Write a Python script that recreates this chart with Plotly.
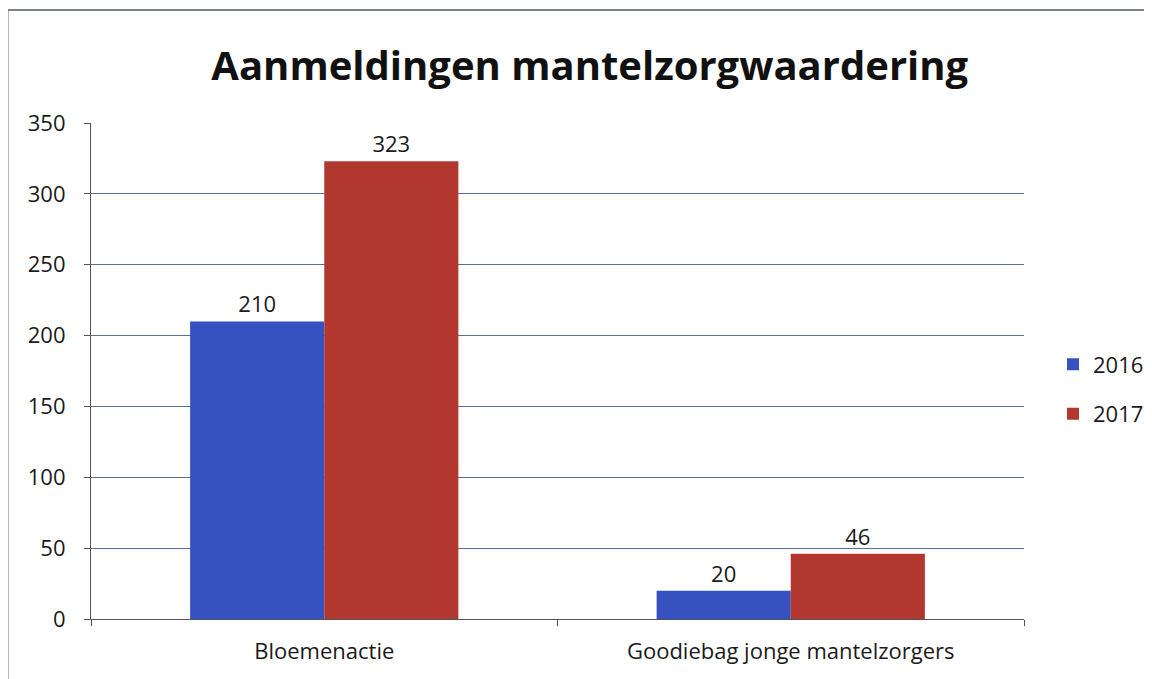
import plotly.graph_objects as go

categories = ["Bloemenactie", "Goodiebag jonge mantelzorgers"]
values_2016 = [210, 20]
values_2017 = [323, 46]
y_ticks = [0, 50, 100, 150, 200, 250, 300, 350]

font_family = "Open Sans, Liberation Sans, sans-serif"

fig = go.Figure()

fig.add_trace(go.Bar(
    x=categories,
    y=values_2016,
    name="2016",
    legendgroup="2016",
    marker=dict(color="#3552c0", line=dict(width=0)),
    text=values_2016,
    textposition="outside",
    textfont=dict(size=22, color="#1a1a1a"),
    cliponaxis=False
))

fig.add_trace(go.Bar(
    x=categories,
    y=values_2017,
    name="2017",
    legendgroup="2017",
    marker=dict(color="#b2382f", line=dict(width=0)),
    text=values_2017,
    textposition="outside",
    textfont=dict(size=22, color="#1a1a1a"),
    cliponaxis=False
))

# page body adds an 8px offset, so margins are shifted to compensate
fig.update_layout(
    width=1152,
    height=679,
    paper_bgcolor="white",
    plot_bgcolor="white",
    font=dict(family=font_family, size=22, color="#1a1a1a"),
    title=dict(
        text="<b>Aanmeldingen mantelzorgwaardering</b>",
        x=0.505,
        y=0.915,
        xanchor="center",
        yanchor="middle",
        font=dict(size=40, family=font_family, color="#111111")
    ),
    barmode="group",
    bargap=0.425,
    bargroupgap=0,
    margin=dict(l=83, r=135, t=115, b=68),
    legend=dict(
        x=1.03,
        y=0.463,
        xanchor="left",
        yanchor="middle",
        font=dict(size=22),
        tracegroupgap=18,
        bgcolor="rgba(0,0,0,0)"
    ),
    showlegend=True,
    shapes=[
        dict(
            type="rect",
            xref="paper", yref="paper",
            x0=-0.0893, x1=1.3, y0=-0.3, y1=1.228,
            line=dict(color="#555a66", width=1.5),
            fillcolor="rgba(0,0,0,0)",
            layer="below"
        )
    ]
)

fig.update_yaxes(
    range=[0, 350],
    tickvals=y_ticks,
    showgrid=True,
    gridcolor="#56709a",
    gridwidth=1.2,
    showline=True,
    linecolor="#555555",
    linewidth=1.2,
    ticks="outside",
    ticklen=6,
    tickcolor="#555555",
    zeroline=False,
    automargin=False,
    tickfont=dict(size=22),
    ticklabelstandoff=14
)

fig.update_xaxes(
    showline=True,
    linecolor="#555555",
    linewidth=1.2,
    ticks="outside",
    tickson="boundaries",
    ticklen=6,
    tickcolor="#555555",
    automargin=False,
    tickfont=dict(size=22),
    ticklabelstandoff=12
)

fig.write_html("out.html")
